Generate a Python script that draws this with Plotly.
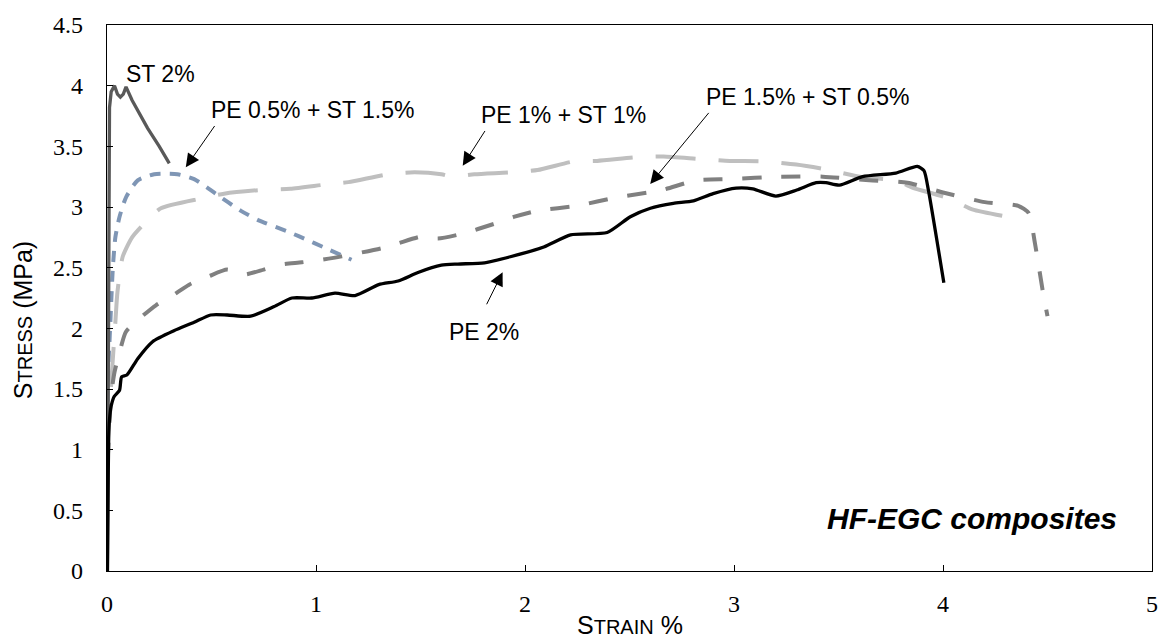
import plotly.graph_objects as go

# ---------------- data ----------------
pe2_x = [0.002, 0.005, 0.008, 0.012, 0.02, 0.035, 0.06, 0.07, 0.095, 0.147, 0.218, 0.32, 0.417, 0.496,
         0.575, 0.687, 0.80, 0.885, 0.98, 1.091, 1.187, 1.30, 1.393, 1.488, 1.60, 1.679, 1.806, 1.93,
         2.09, 2.218, 2.393, 2.504, 2.60, 2.71, 2.806, 2.90, 3.01, 3.09, 3.20, 3.30, 3.393, 3.44, 3.504,
         3.615, 3.774, 3.877, 3.909, 3.93, 4.004]
pe2_y = [0.0, 0.6, 1.1, 1.25, 1.36, 1.44, 1.49, 1.60, 1.615, 1.75, 1.89, 1.98, 2.05, 2.11,
         2.11, 2.10, 2.18, 2.25, 2.25, 2.29, 2.27, 2.36, 2.39, 2.46, 2.52, 2.53, 2.54, 2.59,
         2.67, 2.77, 2.79, 2.92, 2.99, 3.03, 3.05, 3.11, 3.156, 3.15, 3.09, 3.14, 3.20, 3.20, 3.18,
         3.25, 3.28, 3.335, 3.30, 3.14, 2.375]

st2_x = [0.002, 0.004, 0.006, 0.009, 0.012, 0.02, 0.036, 0.05, 0.064, 0.078, 0.091, 0.12, 0.194, 0.25, 0.298]
st2_y = [0.0, 1.2, 2.5, 3.4, 3.82, 3.95, 4.0, 3.93, 3.905, 3.93, 3.99, 3.88, 3.65, 3.5, 3.36]

pe05_x = [0.002, 0.004, 0.012, 0.02, 0.028, 0.04, 0.06, 0.091, 0.147, 0.226, 0.337, 0.417, 0.52,
          0.639, 0.726, 0.861, 0.917, 1.06, 1.17]
pe05_y = [0.9, 1.6, 1.89, 2.21, 2.5, 2.75, 2.92, 3.08, 3.22, 3.27, 3.27, 3.23, 3.11,
          2.97, 2.89, 2.80, 2.76, 2.65, 2.565]

pe1_x = [0.003, 0.015, 0.028, 0.04, 0.05, 0.075, 0.12, 0.179, 0.258, 0.449, 0.56, 0.734, 0.877, 1.044,
         1.155, 1.345, 1.472, 1.60, 1.65, 1.758, 1.932, 2.06, 2.234, 2.345, 2.536, 2.663, 2.837, 2.98,
         3.139, 3.298, 3.44, 3.615, 3.774, 3.853, 4.03, 4.14, 4.306]
pe1_y = [1.0, 1.4, 1.75, 2.05, 2.3, 2.59, 2.75, 2.865, 2.99, 3.07, 3.11, 3.14, 3.15, 3.185,
         3.205, 3.27, 3.286, 3.27, 3.25, 3.27, 3.286, 3.305, 3.376, 3.38, 3.41, 3.416, 3.395, 3.38,
         3.376, 3.35, 3.31, 3.245, 3.22, 3.16, 3.07, 2.98, 2.92]

pe15_x = [0.003, 0.02, 0.036, 0.06, 0.09, 0.155, 0.234, 0.313, 0.393, 0.488, 0.575, 0.655, 0.75, 0.83,
          0.932, 1.028, 1.123, 1.313, 1.393, 1.504, 1.583, 1.70, 1.85, 1.95, 2.06, 2.25, 2.44, 2.647,
          2.82, 2.98, 3.218, 3.425, 3.647, 3.83, 4.0, 4.20, 4.36, 4.41, 4.44, 4.48, 4.50]
pe15_y = [0.9, 1.45, 1.64, 1.8, 1.97, 2.08, 2.19, 2.27, 2.36, 2.43, 2.484, 2.443, 2.484, 2.525,
          2.544, 2.566, 2.593, 2.66, 2.70, 2.756, 2.74, 2.78, 2.86, 2.92, 2.97, 3.01, 3.08, 3.136,
          3.22, 3.23, 3.25, 3.25, 3.22, 3.20, 3.12, 3.04, 3.01, 2.95, 2.70, 2.28, 2.10]

x_ticks = [0, 1, 2, 3, 4, 5]
y_ticks = [0, 0.5, 1, 1.5, 2, 2.5, 3, 3.5, 4, 4.5]
y_tick_text = ["0", "0.5", "1", "1.5", "2", "2.5", "3", "3.5", "4", "4.5"]

# ---------------- figure ----------------
fig = go.Figure()
fig.add_trace(go.Scatter(x=pe1_x, y=pe1_y, mode="lines", name="PE 1% + ST 1%",
                         line=dict(color="#BFBFBF", width=4, dash="40px,23px", shape="spline", smoothing=0.6)))
fig.add_trace(go.Scatter(x=pe05_x, y=pe05_y, mode="lines", name="PE 0.5% + ST 1.5%",
                         line=dict(color="#7F96B5", width=4, dash="11px,9px", shape="spline", smoothing=0.6)))
fig.add_trace(go.Scatter(x=pe15_x, y=pe15_y, mode="lines", name="PE 1.5% + ST 0.5%",
                         line=dict(color="#808080", width=4, dash="19px,20px", shape="spline", smoothing=0.6)))
fig.add_trace(go.Scatter(x=st2_x, y=st2_y, mode="lines", name="ST 2%",
                         line=dict(color="#595959", width=3.3)))
fig.add_trace(go.Scatter(x=pe2_x, y=pe2_y, mode="lines", name="PE 2%",
                         line=dict(color="#000000", width=3.3, shape="spline", smoothing=0.6)))

label_font = dict(family="Liberation Sans, Arial", size=23, color="#000000")

texts = [
    ("ST 2%", 0.258, 4.10),
    ("PE 0.5% + ST 1.5%", 0.988, 3.80),
    ("PE 1% + ST 1%", 2.182, 3.761),
    ("PE 1.5% + ST 0.5%", 3.354, 3.91),
    ("PE 2%", 1.806, 1.968),
]
for t, tx, ty in texts:
    fig.add_annotation(x=tx, y=ty, text=t, showarrow=False, font=label_font,
                       xanchor="center", yanchor="middle")

arrows = [
    ((0.52, 3.68), (0.377, 3.327)),
    ((1.813, 3.639), (1.702, 3.34)),
    ((2.885, 3.788), (2.599, 3.19)),
    ((1.813, 2.186), (1.893, 2.463)),
]
for (tx, ty), (hx, hy) in arrows:
    fig.add_annotation(x=hx, y=hy, ax=tx, ay=ty, axref="x", ayref="y", xref="x", yref="y",
                       text="", showarrow=True, arrowhead=2, arrowsize=2.7, arrowwidth=1,
                       arrowcolor="#000000", standoff=0, startstandoff=0)

fig.add_annotation(x=4.139, y=0.434, text="<b><i>HF-EGC composites</i></b>", showarrow=False,
                   font=dict(family="Liberation Sans, Arial", size=30, color="#000000"),
                   xanchor="center", yanchor="middle")

title_font = dict(family="Liberation Sans, Arial", size=25, color="#000000")
# axis titles (small-caps style)
fig.add_annotation(xref="paper", yref="paper", x=0.5, y=-0.099, showarrow=False,
                   text="S<span style='font-size:20px'>TRAIN</span> %", font=title_font,
                   xanchor="center", yanchor="middle")
fig.add_annotation(xref="paper", yref="paper", x=-0.081, y=0.46, showarrow=False, textangle=-90,
                   text="S<span style='font-size:20px'>TRESS</span> (MPa)", font=title_font,
                   xanchor="center", yanchor="middle")

axis_common = dict(showgrid=False, zeroline=False, showline=True, linecolor="#000000", linewidth=1.3,
                   mirror=True, ticks="inside", ticklen=6, tickwidth=1, tickcolor="#000000",
                   tickfont=dict(family="Liberation Serif, Times New Roman", size=24, color="#000000"))

fig.update_xaxes(range=[0, 5], tickvals=x_ticks, ticklabelstandoff=11, **axis_common)
fig.update_yaxes(range=[0, 4.5], tickvals=y_ticks, ticktext=y_tick_text, ticklabelstandoff=18,
                 **axis_common)

fig.update_layout(width=1170, height=641, margin=dict(l=107, r=12, t=19, b=70),
                  paper_bgcolor="white", plot_bgcolor="white", showlegend=False)

fig.write_html("out.html")
